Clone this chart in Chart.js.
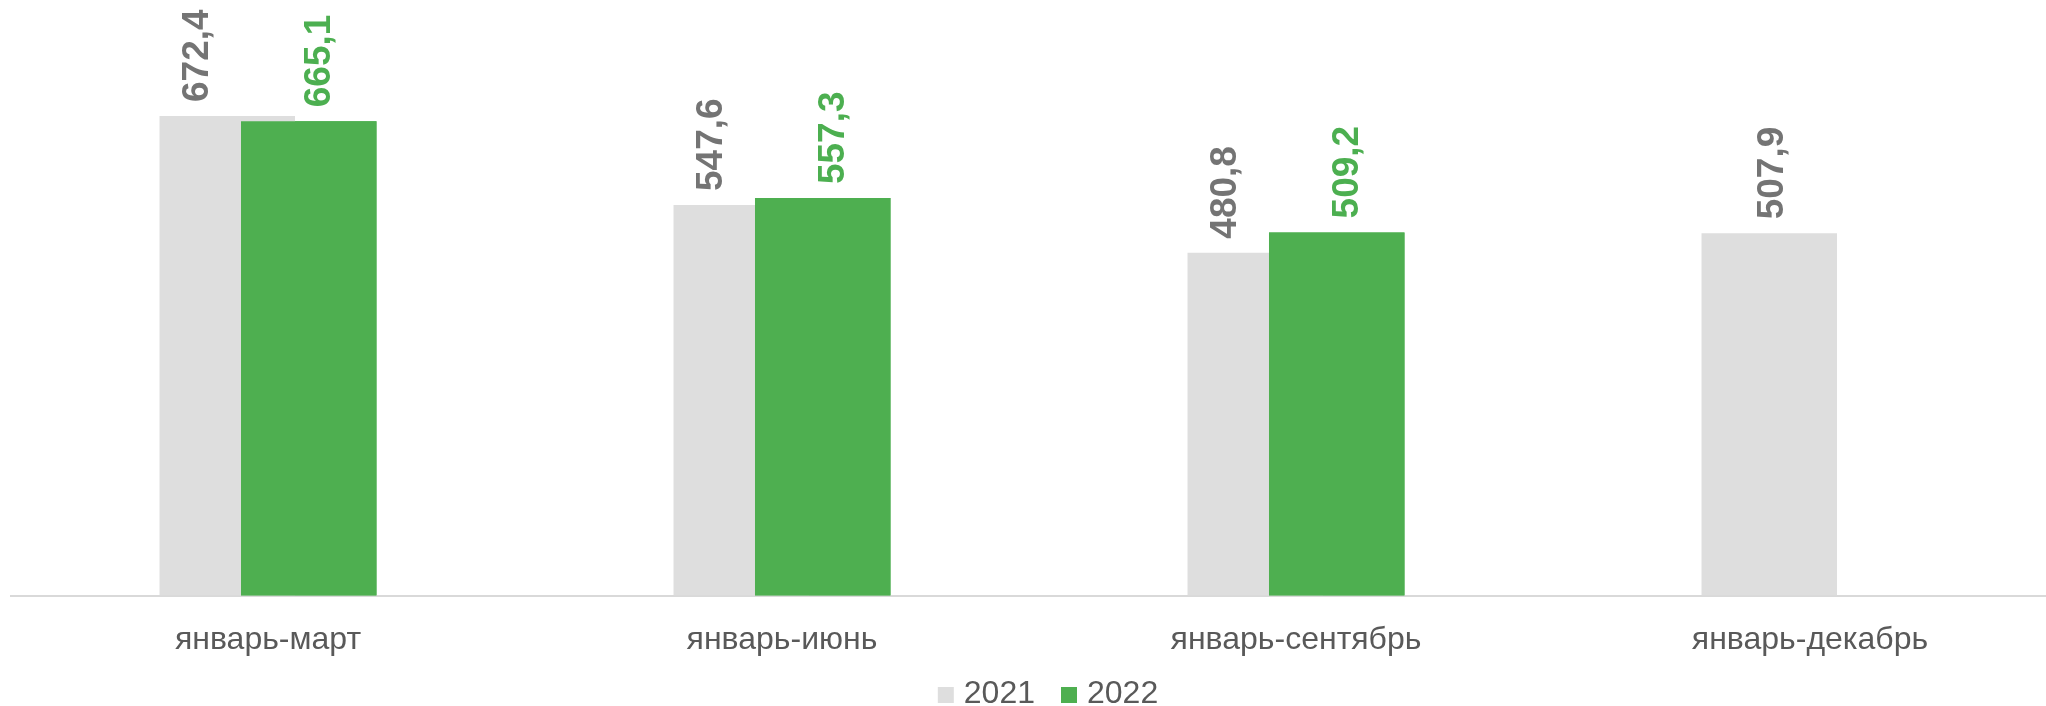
<!DOCTYPE html>
<html>
<head>
<meta charset="utf-8">
<script src="https://cdn.jsdelivr.net/npm/chart.js@4"></script>
<style>
  html, body { margin: 0; padding: 0; background: #fff; overflow: hidden; }
  #wrap { width: 2080px; height: 706px; }
</style>
</head>
<body>
<div id="wrap"><canvas id="c" width="2080" height="706"></canvas></div>
<script>
const categories = ['январь-март', 'январь-июнь', 'январь-сентябрь', 'январь-декабрь'];
const seriesNames = ['2021', '2022'];
const values2021 = [672.4, 547.6, 480.8, 507.9];
const values2022 = [665.1, 557.3, 509.2, null];
const seriesColors = ['#DEDEDE', '#4EAF50'];
const labelColors = ['#747474', '#4CAF50'];
const yMin = 0;
const yMax = 800;

const FONT = '"Liberation Sans", Arial, sans-serif';

const labelPlugin = {
  id: 'valueLabels',
  afterDatasetsDraw(chart) {
    // redraw 2022 on top of overlapping 2021 bars
    const m1 = chart.getDatasetMeta(1);
    m1.controller.draw();
    const ctx = chart.ctx;
    const m0 = chart.getDatasetMeta(0);
    const size = 37;
    ctx.save();
    ctx.font = 'bold ' + size + 'px ' + FONT;
    ctx.textAlign = 'left';
    ctx.textBaseline = 'alphabetic';
    const draw = (text, cx, top, color) => {
      ctx.save();
      ctx.fillStyle = color;
      ctx.translate(cx + 0.358 * size, top - 14);
      ctx.rotate(-Math.PI / 2);
      ctx.fillText(text, 0, 0);
      ctx.restore();
    };
    const fmt = v => v.toFixed(1).replace('.', ',');
    m0.data.forEach((el, i) => {
      const v = values2021[i];
      if (v == null) return;
      let cx = el.x;
      const g = m1.data[i];
      if (values2022[i] != null && g) {
        const left = el.x - el.width / 2;
        const gl = g.x - g.width / 2;
        cx = (left + gl) / 2 - 6;
      }
      draw(fmt(v), cx, el.y, labelColors[0]);
    });
    m1.data.forEach((el, i) => {
      const v = values2022[i];
      if (v == null) return;
      draw(fmt(v), el.x + 8, el.y, labelColors[1]);
    });
    ctx.restore();
  }
};

const legendPlugin = {
  id: 'customLegend',
  afterDraw(chart) {
    const ctx = chart.ctx;
    const size = 32;
    const box = 16, gapBoxText = 10, gapItems = 26;
    ctx.save();
    ctx.font = size + 'px ' + FONT;
    ctx.textBaseline = 'alphabetic';
    ctx.textAlign = 'left';
    const widths = seriesNames.map(n => ctx.measureText(n).width);
    let total = 0;
    widths.forEach((w, i) => { total += box + gapBoxText + w + (i < widths.length - 1 ? gapItems : 0); });
    const ca = chart.chartArea;
    let x = (ca.left + ca.right) / 2 - total / 2 + 9;
    const baseY = 703;
    seriesNames.forEach((n, i) => {
      ctx.fillStyle = seriesColors[i];
      ctx.fillRect(x, baseY - box, box, box);
      x += box + gapBoxText;
      ctx.fillStyle = '#595959';
      ctx.fillText(n, x, baseY);
      x += widths[i] + gapItems;
    });
    ctx.restore();
  }
};

new Chart(document.getElementById('c'), {
  type: 'bar',
  data: {
    labels: categories,
    datasets: [
      { label: seriesNames[0], data: values2021, backgroundColor: seriesColors[0], borderWidth: 0 },
      { label: seriesNames[1], data: values2022, backgroundColor: seriesColors[1], borderWidth: 0 }
    ]
  },
  options: {
    responsive: false,
    animation: false,
    events: [],
    categoryPercentage: 0.317,
    barPercentage: 1.663,
    layout: { padding: { left: 11, right: 13, top: 25, bottom: 30 } },
    plugins: {
      tooltip: { enabled: false },
      legend: { display: false }
    },
    scales: {
      x: {
        grid: { display: false },
        border: { display: true, color: '#D9D9D9', width: 2 },
        ticks: { color: '#595959', font: { family: FONT, size: 32 }, padding: 17, maxRotation: 0, autoSkip: false }
      },
      y: { display: false, min: yMin, max: yMax }
    }
  },
  plugins: [labelPlugin, legendPlugin]
});
</script>
</body>
</html>
